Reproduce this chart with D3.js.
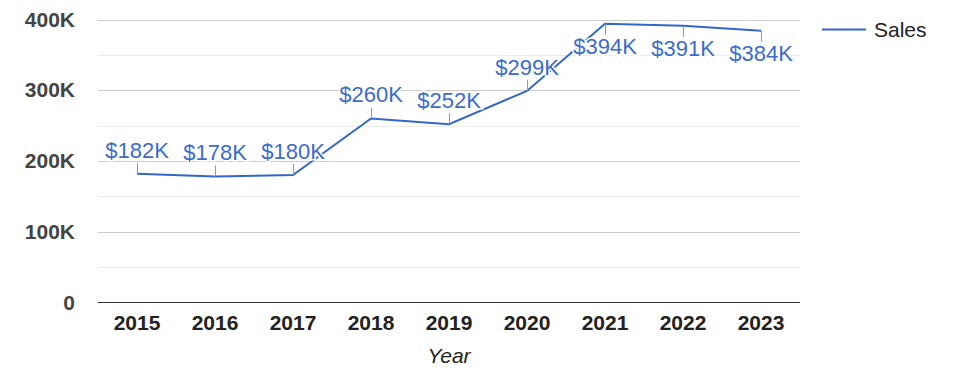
<!DOCTYPE html>
<html>
<head>
<meta charset="utf-8">
<script src="https://cdn.jsdelivr.net/npm/d3@7"></script>
<style>
  body { margin: 0; background: #fff; }
  svg { font-family: Arial, "Liberation Sans", sans-serif; }
</style>
</head>
<body>
<div id="chart"></div>
<script>
// chart data
var years = ["2015", "2016", "2017", "2018", "2019", "2020", "2021", "2022", "2023"];
var sales = [182000, 178000, 180000, 260000, 252000, 299000, 394000, 391000, 384000];
var yTicks = [0, 100000, 200000, 300000, 400000];
var yMinor = [50000, 150000, 250000, 350000];
var seriesName = "Sales";
var xTitle = "Year";

var width = 975, height = 378;
var margin = { top: 19.5, right: 175, bottom: 75.7, left: 98 };
var color = "#3366cc";

var svg = d3.select("#chart").append("svg")
    .attr("width", width)
    .attr("height", height);

var x = d3.scaleBand()
    .domain(years)
    .range([margin.left, width - margin.right]);

var y = d3.scaleLinear()
    .domain([0, 400000])
    .range([height - margin.bottom, margin.top]);

// minor gridlines
svg.append("g")
    .selectAll("line")
    .data(yMinor)
    .enter()
    .append("line")
    .attr("x1", margin.left)
    .attr("x2", width - margin.right)
    .attr("y1", function (d) { return Math.round(y(d)) + 0.5; })
    .attr("y2", function (d) { return Math.round(y(d)) + 0.5; })
    .attr("stroke", "#ebebeb");

// major gridlines
svg.append("g")
    .selectAll("line")
    .data(yTicks.slice(1))
    .enter()
    .append("line")
    .attr("x1", margin.left)
    .attr("x2", width - margin.right)
    .attr("y1", function (d) { return Math.round(y(d)) + 0.5; })
    .attr("y2", function (d) { return Math.round(y(d)) + 0.5; })
    .attr("stroke", "#cccccc");

// y axis labels
var yAxis = d3.axisLeft(y)
    .tickValues(yTicks)
    .tickSize(0)
    .tickPadding(23)
    .tickFormat(function (d) { return d === 0 ? "0" : (d / 1000) + "K"; });

var gy = svg.append("g")
    .attr("transform", "translate(" + margin.left + ",0)")
    .call(yAxis);
gy.select(".domain").remove();
gy.selectAll("text")
    .style("font-family", "Arial, 'Liberation Sans', sans-serif")
    .style("font-size", "21px")
    .style("font-weight", "bold")
    .attr("fill", "#444");

// x axis labels
var xAxis = d3.axisBottom(x).tickSize(0).tickPadding(13);
var gx = svg.append("g")
    .attr("transform", "translate(0," + y(0) + ")")
    .call(xAxis);
gx.select(".domain").remove();
gx.selectAll("text")
    .style("font-family", "Arial, 'Liberation Sans', sans-serif")
    .style("font-size", "21px")
    .style("font-weight", "bold")
    .attr("fill", "#222");

// baseline
svg.append("line")
    .attr("x1", margin.left)
    .attr("x2", width - margin.right)
    .attr("y1", Math.round(y(0)) + 0.5)
    .attr("y2", Math.round(y(0)) + 0.5)
    .attr("stroke", "#333");

// x title
svg.append("text")
    .attr("x", (margin.left + width - margin.right) / 2)
    .attr("y", 363)
    .attr("text-anchor", "middle")
    .style("font-size", "21px")
    .style("font-style", "italic")
    .attr("fill", "#222")
    .text(xTitle);

var cx = function (d, i) { return x(years[i]) + x.bandwidth() / 2; };

// line
var line = d3.line()
    .x(function (d, i) { return cx(d, i); })
    .y(function (d) { return y(d); });

svg.append("path")
    .datum(sales)
    .attr("d", line)
    .attr("fill", "none")
    .attr("stroke", color)
    .attr("stroke-width", 2);

// annotations
var stem = 11;
function below(d) { return y(d) - stem - 5 - 16 < 5; }

var ann = svg.append("g")
    .selectAll("g")
    .data(sales)
    .enter()
    .append("g");

ann.append("line")
    .attr("x1", function (d, i) { return Math.round(cx(d, i)) + 0.5; })
    .attr("x2", function (d, i) { return Math.round(cx(d, i)) + 0.5; })
    .attr("y1", function (d) { return y(d); })
    .attr("y2", function (d) { return below(d) ? y(d) + stem : y(d) - stem; })
    .attr("stroke", "#999");

ann.append("text")
    .attr("x", function (d, i) { return cx(d, i); })
    .attr("y", function (d) { return below(d) ? y(d) + 30 : y(d) - 16; })
    .attr("text-anchor", "middle")
    .style("font-size", "22px")
    .attr("fill", "#3d6bcc")
    .attr("stroke", "#fff")
    .attr("stroke-width", 3)
    .attr("paint-order", "stroke")
    .text(function (d) { return "$" + Math.round(d / 1000) + "K"; });

// legend
var lg = svg.append("g");
lg.append("line")
    .attr("x1", 822)
    .attr("x2", 866)
    .attr("y1", 29.5)
    .attr("y2", 29.5)
    .attr("stroke", color)
    .attr("stroke-width", 2);
lg.append("text")
    .attr("x", 874)
    .attr("y", 37)
    .style("font-size", "21px")
    .attr("fill", "#222")
    .text(seriesName);
</script>
</body>
</html>
